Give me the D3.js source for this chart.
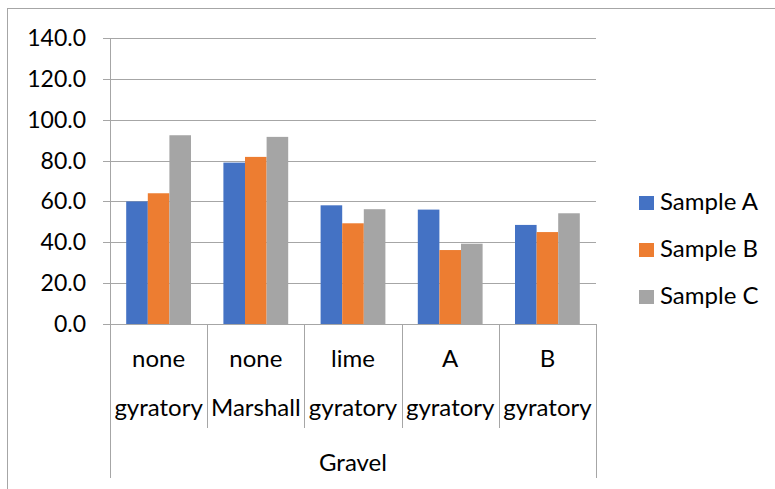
<!DOCTYPE html>
<html>
<head>
<meta charset="utf-8">
<script src="https://cdn.jsdelivr.net/npm/d3@7"></script>
<style>
  html, body { margin: 0; padding: 0; background: #fff; }
  svg { display: block; }
  text { font-family: Lato, "Open Sans", sans-serif; fill: #000; }
</style>
</head>
<body>
<svg id="chart" width="775" height="489"></svg>
<script>
// Categories (inner level: binder, second level: compaction method, outer level: aggregate)
const binders = ["none", "none", "lime", "A", "B"];
const methods = ["gyratory", "Marshall", "gyratory", "gyratory", "gyratory"];
const aggregate = "Gravel";

const seriesNames = ["Sample A", "Sample B", "Sample C"];
const sampleA = [60.0, 79.0, 58.1, 56.0, 48.5];
const sampleB = [64.0, 81.8, 49.3, 36.2, 45.0];
const sampleC = [92.4, 91.6, 56.2, 39.3, 54.2];
const yTicks = [0, 20, 40, 60, 80, 100, 120, 140];

const colors = ["#4472C4", "#ED7D31", "#A5A5A5"];
const seriesValues = [sampleA, sampleB, sampleC];

const svg = d3.select("#chart");
const plot = { left: 110, right: 596, top: 38, bottom: 324 };

// outer chart frame
svg.append("rect")
  .attr("x", 7.5).attr("y", 8.5)
  .attr("width", 820).attr("height", 520)
  .attr("fill", "none").attr("stroke", "#a6a6a6").attr("stroke-width", 1);

const idx = binders.map((_, i) => i);
const x = d3.scaleBand().domain(idx).range([plot.left, plot.right]).paddingInner(0).paddingOuter(0);
const y = d3.scaleLinear().domain([0, 140]).range([plot.bottom, plot.top]);

// bars: 3 per category, gap width 150% of a bar
const barW = x.bandwidth() / (3 + 1.5);
const xs = d3.scaleBand().domain(seriesNames).range([0, barW * 3]);

// gridlines with small outside ticks
svg.append("g").selectAll("line").data(yTicks).join("line")
  .attr("x1", plot.left - 7).attr("x2", plot.right)
  .attr("y1", d => Math.round(y(d)) + 0.5).attr("y2", d => Math.round(y(d)) + 0.5)
  .attr("stroke", "#a6a6a6").attr("stroke-width", 1);

svg.append("g").selectAll("text").data(yTicks).join("text")
  .attr("x", 86).attr("y", d => y(d) + 8)
  .attr("text-anchor", "end")
  .attr("font-size", 23)
  .text(d => d3.format(".1f")(d));

seriesNames.forEach((name, s) => {
  svg.append("g").selectAll("rect").data(seriesValues[s]).join("rect")
    .attr("x", (d, i) => x(i) + barW * 0.75 + xs(name))
    .attr("y", d => y(d))
    .attr("width", xs.bandwidth())
    .attr("height", d => y(0) - y(d))
    .attr("fill", colors[s]);
});

// vertical axis line
svg.append("line")
  .attr("x1", plot.left + 0.5).attr("x2", plot.left + 0.5)
  .attr("y1", plot.top).attr("y2", 478)
  .attr("stroke", "#a6a6a6");

// multi-level category axis separators
const bounds = idx.map(i => x(i)).concat([plot.right]);
svg.append("g").selectAll("line").data(bounds).join("line")
  .attr("x1", d => Math.round(d) + 0.5).attr("x2", d => Math.round(d) + 0.5)
  .attr("y1", plot.bottom)
  .attr("y2", (d, i) => (i === 0 || i === bounds.length - 1) ? 478 : 428)
  .attr("stroke", "#a6a6a6");

svg.append("g").selectAll("text").data(binders).join("text")
  .attr("x", (d, i) => x(i) + x.bandwidth() / 2)
  .attr("y", 367).attr("text-anchor", "middle").attr("font-size", 24)
  .text(d => d);

svg.append("g").selectAll("text").data(methods).join("text")
  .attr("x", (d, i) => x(i) + x.bandwidth() / 2)
  .attr("y", 416).attr("text-anchor", "middle").attr("font-size", 24)
  .text(d => d);

svg.append("text")
  .attr("x", (plot.left + plot.right) / 2).attr("y", 471)
  .attr("text-anchor", "middle").attr("font-size", 24)
  .text(aggregate);

// legend
const legend = svg.append("g").selectAll("g").data(seriesNames).join("g")
  .attr("transform", (d, i) => `translate(639, ${196 + i * 47})`);
legend.append("rect").attr("width", 15).attr("height", 14).attr("fill", (d, i) => colors[i]);
legend.append("text").attr("x", 21).attr("y", 14).attr("font-size", 24).text(d => d);
</script>
</body>
</html>
